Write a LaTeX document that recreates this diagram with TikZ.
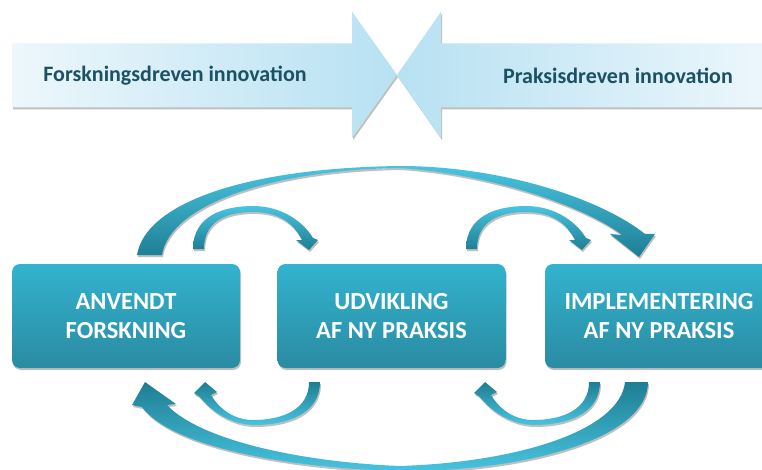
\documentclass[tikz,border=0pt]{standalone}
\usepackage{fontspec}
\setmainfont{Carlito}
\usetikzlibrary{shadows}
\definecolor{boxtop}{HTML}{33B3CF}
\definecolor{boxbot}{HTML}{2A8BA2}
\definecolor{arclight}{HTML}{48C4E0}
\definecolor{arcdark}{HTML}{1E7E93}
\definecolor{inlight}{HTML}{EDF7FC}
\definecolor{inmid}{HTML}{B7E1F2}
\definecolor{labeldark}{HTML}{1B5263}
\begin{document}
\begin{tikzpicture}[x=1pt,y=-1pt,
  softshadow/.style={drop shadow={shadow xshift=1pt,shadow yshift=-2pt,opacity=0.25,fill=black}},
  stagebox/.style={rounded corners=8pt, minimum width=228pt, minimum height=104pt,
    top color=boxtop, bottom color=boxbot, draw=none, text=white, align=center,
    font=\bfseries\fontsize{24.5}{29}\selectfont, softshadow},
  toparc/.style={top color=arclight, bottom color=arcdark, softshadow},
  botarc/.style={top color=arcdark, bottom color=arclight, softshadow},
  innolabel/.style={text=labeldark, font=\bfseries\fontsize{22}{26}\selectfont}
]
\useasboundingbox (0,0) rectangle (762,470);

% top innovation arrows
\path[softshadow, left color=inlight, right color=inmid]
  (12,43.3) -- (352,43.3) -- (352,11.7) -- (397,75) -- (352,138) -- (352,107.3) -- (12,107.3) -- cycle;
\path[softshadow, left color=inmid, right color=inlight]
  (775,43.3) -- (441,43.3) -- (441,11.7) -- (397,75) -- (441,138) -- (441,107.3) -- (775,107.3) -- cycle;
\node[innolabel] (fdi) at (175,76) {Forskningsdreven innovation};
\node[innolabel] (pdi) at (618,76) {Praksisdreven innovation};

% boxes
\node[stagebox] (af) at (126,316) {ANVENDT\\FORSKNING};
\node[stagebox] (ud) at (391.5,316) {UDVIKLING\\AF NY PRAKSIS};
\node[stagebox] (im) at (659,316) {IMPLEMENTERING\\AF NY PRAKSIS};

% big top arc
\path[toparc]
  (137,255) .. controls (145,205) and (240,168) .. (400,166)
  .. controls (500,166) and (600,198) .. (645,234)
  -- (655,234) -- (639,257) -- (610,234) -- (622,235)
  .. controls (590,210) and (500,175) .. (400,168)
  .. controls (270,170) and (170,205) .. (162,255) -- cycle;

% small top arcs
\foreach \dx in {0,273}{
\path[toparc, xshift=\dx pt]
  (193,249) .. controls (193,215) and (225,206) .. (253,206)
  .. controls (280,206) and (302,220) .. (313,238)
  -- (318,240) -- (309,250) -- (296,240) -- (302,240)
  .. controls (292,220) and (275,212) .. (253,212)
  .. controls (225,212) and (204,222) .. (204,249) -- cycle;
}

% small bottom arcs
\foreach \dx in {0,280}{
\path[botarc, xshift=\dx pt]
  (320,382) .. controls (320,415) and (285,425) .. (255,425)
  .. controls (230,425) and (210,410) .. (200,397)
  -- (194,393) -- (205,382) -- (217,392) -- (211,395)
  .. controls (220,410) and (235,420) .. (253,420)
  .. controls (285,420) and (309,408) .. (309,382) -- cycle;
}

% big bottom arc
\path[botarc]
  (648,382) .. controls (648,440) and (520,472) .. (400,471)
  .. controls (280,468) and (170,445) .. (142,407)
  -- (132,405) -- (145,382) -- (176,404) -- (167,405)
  .. controls (200,440) and (300,462) .. (400,466)
  .. controls (520,462) and (620,430) .. (625,382) -- cycle;
\end{tikzpicture}
\end{document}
